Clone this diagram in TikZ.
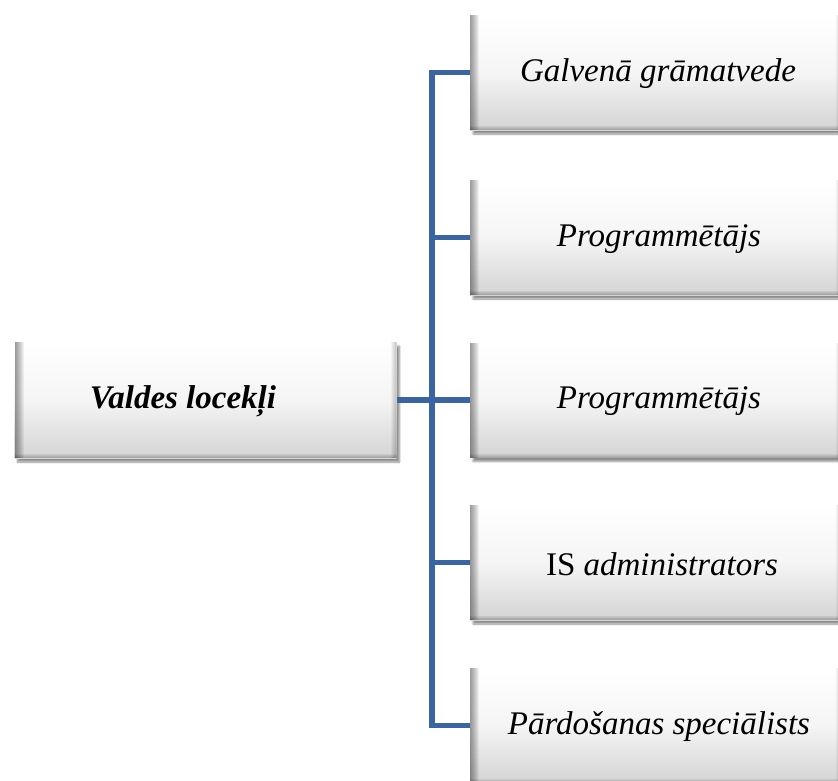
\documentclass[tikz,border=0pt]{standalone}
\usepackage{fontspec}
\setmainfont{Liberation Serif}
\usetikzlibrary{shadows.blur}
\definecolor{linkblue}{RGB}{59,101,156}
\tikzset{
  x=1pt, y=-1pt,
  card/.style={rectangle, draw=none, inner sep=0pt,
    top color=white, bottom color=black!17, middle color=black!4,
    blur shadow={shadow xshift=3pt, shadow yshift=-4pt, shadow blur steps=8, shadow opacity=45},
    path picture={
      % soft bevel on the left, right and bottom edges
      \foreach \k in {1,...,9}{
        \fill[black, opacity=0.05]
          (path picture bounding box.north west) rectangle ([xshift=\k pt]path picture bounding box.south west);
      }
      \foreach \k in {1,...,6}{
        \fill[black, opacity=0.04]
          (path picture bounding box.north east) rectangle ([xshift=-\k pt]path picture bounding box.south east);
      }
      \foreach \k in {1,...,4}{
        \fill[black, opacity=0.06]
          (path picture bounding box.south west) rectangle ([yshift=\k pt]path picture bounding box.south east);
      }
    }},
  lbl/.style={font=\fontsize{33}{38}\selectfont\itshape, inner sep=0pt},
  link/.style={draw=linkblue, line width=5.5pt}
}
\begin{document}
\begin{tikzpicture}
\useasboundingbox (0,0) rectangle (838,780);
\clip (0,0) rectangle (838,780);

% head box
\node[card, minimum width=382pt, minimum height=116pt] (head) at (205.5,400) {};
\node[lbl, font=\fontsize{33}{38}\selectfont\bfseries\itshape] (headtxt) at (183,401) {Valdes locekļi};

% staff boxes
\foreach \n/\y in {1/72.5, 2/237.5, 3/400, 4/562.5, 5/725.5}{
  \node[card, minimum width=372pt, minimum height=115pt] (b\n) at (656,\y) {};
}
\node[lbl] (t1) at (658,74) {Galvenā grāmatvede};
\node[lbl] (t2) at (659,239) {Programmētājs};
\node[lbl] (t3) at (659,401) {Programmētājs};
\node[lbl] (t4) at (662,564) {\upshape IS \itshape administrators};
\node[lbl] (t5) at (659,727) {Pārdošanas speciālists};

% connectors
\coordinate (bus) at (432,400);
\draw[link] (b1.west) -| (bus) |- (b5.west);
\draw[link] (head.east) -- (b3.west);
\draw[link] (b2.west) -- (bus |- b2.west);
\draw[link] (b4.west) -- (bus |- b4.west);
\end{tikzpicture}
\end{document}
